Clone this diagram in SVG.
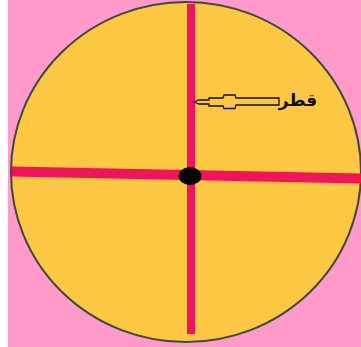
<svg xmlns="http://www.w3.org/2000/svg" width="361" height="347" viewBox="0 0 361 347">
<style>
.bg{fill:#FF9ACB}
.disc{fill:#FCC844;stroke:#3C4A3A;stroke-width:2}
.line{stroke:#F0145C;fill:none}
.arrow{fill:#FCC844;stroke:#111;stroke-width:1.3;stroke-linejoin:miter}
.label{font-family:"DejaVu Sans","Noto Sans",sans-serif;font-size:17px;font-weight:bold;fill:#111}
</style>
<rect x="0" y="0" width="361" height="347" fill="#ffffff"/>
<rect class="bg" x="8" y="0" width="353" height="347"/>
<g id="circle">
<ellipse class="disc" cx="186" cy="172" rx="175" ry="170"/>
</g>
<g id="connectors">
<line class="line" x1="12" y1="171.5" x2="361" y2="178.5" stroke-width="10"/>
<line class="line" x1="191" y1="4" x2="191" y2="334" stroke-width="8"/>
</g>
<g id="center">
<ellipse cx="190" cy="176" rx="11.5" ry="9" fill="#000"/>
</g>
<g id="label">
<polygon class="arrow" points="194,102 199,100 209,100 209,98 223,98 224,95 235,95 236,98 279,98 279,105 236,105 235,108.5 224,108.5 223,106 209,106 209,104 199,104"/>
<text class="label" x="298" y="106" text-anchor="middle" direction="rtl">قطر</text>
</g>
</svg>
